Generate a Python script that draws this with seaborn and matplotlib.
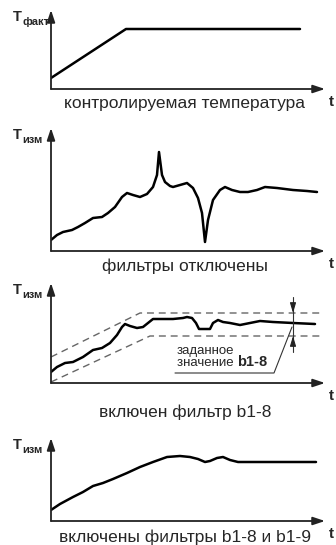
import matplotlib
matplotlib.use('Agg')  # Use non-interactive backend
import matplotlib.pyplot as plt
from matplotlib import font_manager
import seaborn as sns

W, H = 336, 545

# panel 1: controlled temperature (t, T)
p1_t = [0, 75, 249]
p1_T = [11, 60, 60]

# panel 2: filters off
p2_t = [0, 6, 12, 21, 27, 34, 42, 51, 57, 64, 71, 76, 82, 89, 96, 102, 106, 108,
        111, 114, 119, 122, 129, 136, 142, 147, 151, 154, 157, 162, 169, 174, 181,
        189, 197, 206, 214, 226, 242, 256, 266]
p2_T = [11, 16, 19, 21, 24, 28, 33, 34, 38, 44, 54, 58, 56, 54, 57, 64, 76, 99,
        76, 69, 65, 64, 66, 68, 63, 53, 38, 9, 31, 51, 61, 64, 61,
        59, 59, 61, 64, 63, 61, 60, 59]

# panel 3: filter b1-8 on
p3_t = [0, 6, 14, 22, 32, 42, 51, 59, 66, 71, 74, 79, 86, 92, 97, 102, 112, 122,
        132, 136, 141, 145, 148, 159, 162, 167, 172, 179, 189, 199, 209, 222, 242, 264]
p3_T = [11, 16, 20, 21, 26, 33, 35, 40, 48, 56, 59, 57, 55, 56, 60, 64, 64, 64,
        65, 66, 65, 60, 54, 54, 60, 63, 61, 60, 58, 60, 62, 61, 60, 59]
band_hi_t = [0, 89, 272]
band_hi_T = [26, 70, 70]
band_lo_t = [0, 99, 272]
band_lo_T = [1, 47, 47]

# panel 4: filters b1-8 and b1-9 on
p4_t = [0, 9, 22, 32, 42, 52, 62, 76, 89, 102, 116, 129, 139, 147, 154, 159, 166,
        172, 179, 187, 199, 222, 249, 265]
p4_T = [11, 17, 24, 29, 35, 38, 42, 48, 54, 59, 64, 65, 64, 62, 59, 60, 63,
        64, 61, 59, 59, 59, 59, 59]

captions = ['контролируемая температура', 'фильтры отключены',
            'включен фильтр b1-8', 'включены фильтры b1-8 и b1-9']
subs = ['факт', 'изм', 'изм', 'изм']

# pixel layout: (x-axis row, arrow tip row, caption row)
panels = [(89, 10, 103), (251, 128, 266), (383, 283, 412), (521, 438, 537)]
X0, X1 = 51, 325


def pick_font(names):
    for n in names:
        try:
            font_manager.findfont(n, fallback_to_default=False)
            return n
        except Exception:
            pass
    return 'DejaVu Sans'


sns.set_style('white')
cap_font = pick_font(['Liberation Sans Narrow', 'Liberation Sans'])
lab_font = pick_font(['Liberation Sans'])
plt.rcParams['font.family'] = [lab_font, 'DejaVu Sans']

fig = plt.figure(figsize=(W / 100, H / 100), dpi=100)
axes = []
for y_ax, y_top, y_cap in panels:
    ax = fig.add_axes([X0 / W, 1 - y_ax / H, (X1 - X0) / W, (y_ax - y_top) / H])
    ax.set_xlim(0, X1 - X0)
    ax.set_ylim(0, y_ax - y_top)
    for s in ax.spines.values():
        s.set_visible(False)
    ax.set_xticks([])
    ax.set_yticks([])
    ax.patch.set_alpha(0)
    arrow = dict(arrowstyle='-|>,head_length=0.9,head_width=0.3', color='#222',
                 lw=1.3, mutation_scale=8, shrinkA=0, shrinkB=0)
    ax.annotate('', xy=(1, 0), xytext=(0, 0), xycoords='axes fraction', arrowprops=arrow)
    ax.annotate('', xy=(0, 1), xytext=(0, 0), xycoords='axes fraction', arrowprops=arrow)
    axes.append(ax)

line_kw = dict(color='black', lw=1.8, sort=False, estimator=None)
sns.lineplot(x=p1_t, y=p1_T, ax=axes[0], **line_kw)
sns.lineplot(x=p2_t, y=p2_T, ax=axes[1], **line_kw)
sns.lineplot(x=p3_t, y=p3_T, ax=axes[2], **line_kw)
sns.lineplot(x=p4_t, y=p4_T, ax=axes[3], **line_kw)

dash_kw = dict(color='#666', lw=1.0, sort=False, estimator=None)
for bt, bT in [(band_hi_t, band_hi_T), (band_lo_t, band_lo_T)]:
    sns.lineplot(x=bt, y=bT, ax=axes[2], **dash_kw)
for l in axes[2].lines[-2:]:
    l.set_dashes((5, 3.5))
    l.set_clip_on(False)

# tolerance marker for b1-8
ax = axes[2]
ax.plot([242, 242], [86, 31], color='#333', lw=0.8, clip_on=False)
small = dict(arrowstyle='-|>,head_length=1.0,head_width=0.3', color='#222',
             lw=0.8, mutation_scale=6, shrinkA=0, shrinkB=0)
ax.annotate('', xy=(242, 70), xytext=(242, 80), arrowprops=small)
ax.annotate('', xy=(242, 47), xytext=(242, 37), arrowprops=small)
ax.plot([124, 223, 241], [10, 10, 56], color='#333', lw=0.8)
ax.text(126, 32, 'заданное', family=cap_font, fontsize=9.5, va='center', ha='left')
t1 = ax.text(126, 20, 'значение ', family=cap_font, fontsize=9.5, va='center', ha='left')
ax.annotate('b1-8', xy=(1, 0), xycoords=t1, family=lab_font, fontsize=10.5,
            fontweight='bold', va='bottom', ha='left')

# labels
for (y_ax, y_top, y_cap), cap, sub in zip(panels, captions, subs):
    fig.text(185 / W, 1 - y_cap / H, cap, family=cap_font, fontsize=12.5,
             ha='center', va='center')
    fig.text(331 / W, 1 - (y_ax + 13) / H, 't', fontsize=11, fontweight='bold',
             ha='center', va='center')
    tt = fig.text(13 / W, 1 - (y_top + 7) / H, 'Т', fontsize=10.5, fontweight='bold',
                  ha='left', va='center')
    fig.text(22.5 / W, 1 - (y_top + 12) / H, sub, fontsize=8, fontweight='bold',
             ha='left', va='center')

fig.savefig('out.png', dpi=100)
plt.close(fig)
